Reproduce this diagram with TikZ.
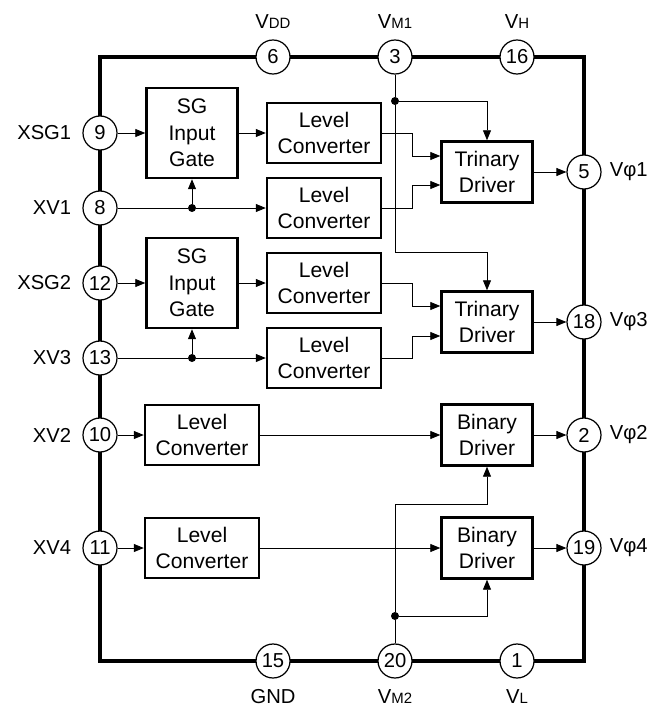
\documentclass[tikz,border=0pt]{standalone}
\usepackage{fontspec}
\setmainfont{Liberation Sans}
\usetikzlibrary{arrows.meta,positioning,calc}

\newcommand{\pinv}[1]{V{\fontsize{8.5}{9}\selectfont #1}}

\begin{document}
\begin{tikzpicture}[
  x=0.02cm, y=-0.02cm,
  block/.style={rectangle, draw, line width=1.4pt, font=\fontsize{12}{15.2}\selectfont, align=center, inner sep=0pt},
  gate/.style={block, minimum width=1.82cm, minimum height=1.8cm},
  lvl/.style={block, minimum width=2.28cm, minimum height=1.2cm},
  drv/.style={block, minimum width=1.82cm, minimum height=1.22cm},
  pin/.style={circle, draw, fill=white, line width=0.7pt, minimum size=0.68cm, inner sep=0pt, font=\fontsize{11.5}{11.5}\selectfont},
  pinlabel/.style={font=\fontsize{11.5}{11.5}\selectfont},
  wire/.style={line width=0.5pt},
  arrow/.style={-{Stealth[length=2mm, width=1.6mm, inset=0pt]}, wire},
  dot/.style={circle, fill, inner sep=0pt, minimum size=1.6mm},
]
\useasboundingbox (0,0) rectangle (657,713);

% Package outline
\draw[line width=2pt] (100,57) rectangle (584,661);

% Pins
\node[pin] (p6) at (273,57) {6};
\node[pin] (p3) at (395,57) {3};
\node[pin] (p16) at (517,57) {16};
\node[pin] (p9) at (100,133) {9};
\node[pin] (p8) at (100,208) {8};
\node[pin] (p12) at (100,283) {12};
\node[pin] (p13) at (100,358) {13};
\node[pin] (p10) at (100,435) {10};
\node[pin] (p11) at (100,548) {11};
\node[pin] (p5) at (584,172) {5};
\node[pin] (p18) at (584,322) {18};
\node[pin] (p2) at (584,435) {2};
\node[pin] (p19) at (584,548) {19};
\node[pin] (p15) at (273,661) {15};
\node[pin] (p20) at (395,661) {20};
\node[pin] (p1) at (517,661) {1};

% Pin labels
\node[pinlabel, above=0.1cm of p6] {\pinv{DD}};
\node[pinlabel, above=0.1cm of p3] {\pinv{M1}};
\node[pinlabel, above=0.1cm of p16] {\pinv{H}};
\node[pinlabel, left=0.1cm of p9] {XSG1};
\node[pinlabel, left=0.1cm of p8] {XV1};
\node[pinlabel, left=0.1cm of p12] {XSG2};
\node[pinlabel, left=0.1cm of p13] {XV3};
\node[pinlabel, left=0.1cm of p10] {XV2};
\node[pinlabel, left=0.1cm of p11] {XV4};
\node[pinlabel, right=0.04cm of p5] {Vφ1};
\node[pinlabel, right=0.04cm of p18] {Vφ3};
\node[pinlabel, right=0.04cm of p2] {Vφ2};
\node[pinlabel, right=0.04cm of p19] {Vφ4};
\node[pinlabel, below=0.1cm of p15] {GND};
\node[pinlabel, below=0.1cm of p20] {\pinv{M2}};
\node[pinlabel, below=0.1cm of p1] {\pinv{L}};

% Blocks
\node[gate] (gate1) at (192,133) {SG\\Input\\Gate};
\node[gate] (gate2) at (192,283) {SG\\Input\\Gate};
\node[lvl] (lvl1) at (324,133) {Level\\Converter};
\node[lvl] (lvl2) at (324,208) {Level\\Converter};
\node[lvl] (lvl3) at (324,283) {Level\\Converter};
\node[lvl] (lvl4) at (324,358) {Level\\Converter};
\node[lvl] (lvl5) at (202,435) {Level\\Converter};
\node[lvl] (lvl6) at (202,548) {Level\\Converter};
\node[drv] (tri1) at (487,172) {Trinary\\Driver};
\node[drv] (tri2) at (487,322) {Trinary\\Driver};
\node[drv] (bin1) at (487,435) {Binary\\Driver};
\node[drv] (bin2) at (487,548) {Binary\\Driver};

% Junctions
\node[dot] (j8) at (192,208) {};
\node[dot] (j13) at (192,358) {};
\node[dot] (j3) at (395,101) {};
\node[dot] (j20) at (395,616) {};

% Arrows
\draw[arrow] (p9) -- (gate1);
\draw[arrow] (gate1) -- (lvl1);
\draw[wire] (p8) -- (j8);
\draw[arrow] (j8) -- (lvl2);
\draw[arrow] (j8) -- (gate1);
\draw[arrow] (p12) -- (gate2);
\draw[arrow] (gate2) -- (lvl3);
\draw[wire] (p13) -- (j13);
\draw[arrow] (j13) -- (lvl4);
\draw[arrow] (j13) -- (gate2);
\draw[arrow] (p10) -- (lvl5);
\draw[arrow] (p11) -- (lvl6);

\draw[arrow] (lvl1.east) -- ++(30,0) |- ($(tri1.west)+(0,-16)$);
\draw[arrow] (lvl2.east) -- ++(30,0) |- ($(tri1.west)+(0,13)$);
\draw[arrow] (lvl3.east) -- ++(30,0) |- ($(tri2.west)+(0,-16)$);
\draw[arrow] (lvl4.east) -- ++(30,0) |- ($(tri2.west)+(0,14)$);
\draw[arrow] (lvl5) -- (bin1);
\draw[arrow] (lvl6) -- (bin2);

\draw[wire] (p3) -- (j3);
\draw[arrow] (j3) -| (tri1);
\draw[arrow] (j3) |- ($(tri2.north)+(0,-38)$) -- (tri2.north);
\draw[wire] (p20) -- (j20);
\draw[arrow] (j20) -| (bin2);
\draw[arrow] (j20) |- ($(bin1.south)+(0,38)$) -- (bin1.south);

\draw[arrow] (tri1) -- (p5);
\draw[arrow] (tri2) -- (p18);
\draw[arrow] (bin1) -- (p2);
\draw[arrow] (bin2) -- (p19);

\end{tikzpicture}
\end{document}
